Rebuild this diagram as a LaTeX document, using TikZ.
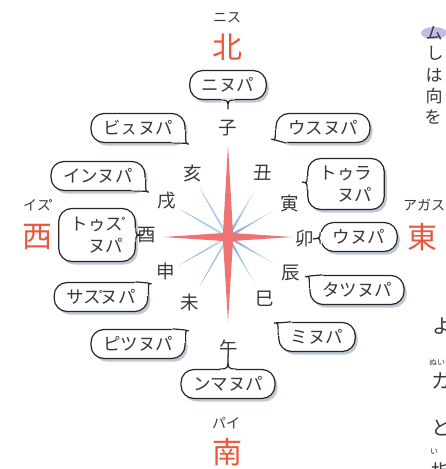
\documentclass[tikz,border=0pt]{standalone}
\usepackage{fontspec}
\setmainfont{Noto Sans CJK JP}
\usetikzlibrary{shadows,calc}

\definecolor{starred}{HTML}{F07373}
\definecolor{dirred}{HTML}{E9573D}
\definecolor{raybl}{HTML}{6FA3DA}
\definecolor{inkgray}{HTML}{383838}
\definecolor{shadowbl}{HTML}{7F93AA}
\definecolor{markpurple}{HTML}{BEBEE4}

% su with the small circle
\newcommand\sumaru{ス\llap{\raisebox{0.6em}{\tikz\draw[line width=.5pt] (0,0) circle (1.4pt);}\kern-0.1em}}

% bubble tail: node, anchor, start, bend, tip, end
\newcommand\bubtail[6]{%
  \coordinate (#1-m) at (#1.#2);
  \coordinate (#1-a) at ($(#1-m)+(#3)$);
  \coordinate (#1-c) at ($(#1-m)+(#4)$);
  \coordinate (#1-tip) at ($(#1-m)+(#5)$);
  \coordinate (#1-b) at ($(#1-m)+(#6)$);
  \fill[white] ($(#1-a)!1.6pt!90:(#1-b)$) -- ($(#1-b)!1.6pt!-90:(#1-a)$)
    -- ($(#1-b)!1.6pt!90:(#1-a)$) -- ($(#1-a)!1.6pt!-90:(#1-b)$) -- cycle;
  \filldraw[tail] (#1-a) .. controls (#1-c) .. (#1-tip) .. controls (#1-c) .. (#1-b);}

\begin{document}
\begin{tikzpicture}[x=1pt,y=-1pt,
  bubble/.style={draw=black!85,line width=1.2pt,fill=white,rounded corners=13pt,
    minimum height=29pt,inner xsep=12pt,inner ysep=3pt,text=inkgray,
    font=\fontsize{17.5}{22}\selectfont,
    drop shadow={shadow xshift=2.5pt,shadow yshift=-3pt,fill=shadowbl,opacity=.5}},
  tail/.style={draw=black!85,line width=1.2pt,fill=white,line join=round},
  branch/.style={font=\fontsize{18.5}{18.5}\selectfont,text=inkgray},
  dirname/.style={font=\fontsize{30}{30}\selectfont,text=dirred,inner sep=0pt},
  reading/.style={font=\fontsize{14}{14}\selectfont,text=inkgray,inner sep=0pt},
  edgetext/.style={font=\fontsize{17}{17}\selectfont,text=inkgray,inner sep=0pt}
]
\useasboundingbox (0,0) rectangle (446,469);
\clip (0,0) rectangle (446,469);

% compass
\coordinate (C) at (228,237);
\foreach \a in {30,60,120,150,210,240,300,330}
  \shade[shift={(C)},rotate=\a,left color=raybl,right color=raybl!25]
    (0,-1.4) -- (56,0) -- (0,1.4) -- cycle;
\fill[starred] (228,145) -- (233,233) -- (292,237) -- (233,241) -- (228,322)
  -- (223,241) -- (163,237) -- (223,233) -- cycle;

% the twelve branches
\node[branch] (zi) at (228,128) {子};
\node[branch] (ushi) at (263,173) {丑};
\node[branch] (tora) at (290,203) {寅};
\node[branch] (u) at (305,239) {卯};
\node[branch] (tatsu) at (291,273) {辰};
\node[branch] (mi) at (265,299) {巳};
\node[branch] (uma) at (229,348) {午};
\node[branch] (hitsuji) at (190,302) {未};
\node[branch] (saru) at (166,271) {申};
\node[branch] (tori) at (147,235) {酉};
\node[branch] (inu) at (167,201) {戌};
\node[branch] (i) at (193,173) {亥};

% bubbles
\node[bubble] (bzi) at (228,85) {ニヌパ};
\node[bubble] (bi) at (138,128) {ビㇲヌパ};
\node[bubble] (bushi) at (323,128) {ウスヌパ};
\node[bubble,align=right,minimum height=51pt] (btora) at (346,184) {トゥラ\\ヌパ};
\node[bubble] (bu) at (359,237) {ウヌパ};
\node[bubble] (btatsu) at (357,290) {タツヌパ};
\node[bubble] (bmi) at (317,337) {ミヌパ};
\node[bubble] (buma) at (228,384) {ンマヌパ};
\node[bubble] (bhitsuji) at (138,344) {ピツヌパ};
\node[bubble] (bsaru) at (101,297) {サ\sumaru ヌパ};
\node[bubble,align=right,minimum height=53pt] (btori) at (97,235) {トゥ\sumaru\\ヌパ};
\node[bubble] (binu) at (98,176) {インヌパ};

\bubtail{bzi}{south}{-7,0}{0,0}{0,9}{7,0}
\bubtail{bi}{south east}{-13,0}{0,0}{3,1}{0,-12}
\bubtail{bushi}{south west}{0,-13}{0,-3}{-4,-4}{11,0}
\bubtail{btora}{west}{0,-8}{0,-1}{-5,-2}{0,6}
\bubtail{bu}{west}{0,-5}{0,1}{-7,2}{0,7}
\bubtail{btatsu}{north west}{13,0}{0,1}{-4,2}{0,13}
\bubtail{bmi}{north west}{13,0}{0,1}{-4,1}{0,13}
\bubtail{buma}{north}{-8,0}{0,0}{0,-13}{8,0}
\bubtail{bhitsuji}{north east}{-13,0}{0,1}{3,2}{0,13}
\bubtail{bsaru}{north east}{-13,0}{0,1}{3,2}{0,13}
\bubtail{btori}{east}{0,-7}{0,0}{7,0}{0,7}
\bubtail{binu}{south east}{-13,0}{0,0}{3,1}{0,-12}

% the four directions
\node[dirname] (kita) at (227,47) {北};
\node[reading] (nisu) at (227,18) {ニス};
\node[dirname] (minami) at (227,452) {南};
\node[reading] (pai) at (226,423) {パイ};
\node[dirname] (nishi) at (37,237) {西};
\node[reading] (isu) at (37,205) {イ\sumaru};
\node[dirname] (higashi) at (422,237) {東};
\node[reading] (agasu) at (424,205) {アガス};

% page text cut at the edge
\fill[markpurple] (434,33) ellipse (13 and 6);
\node[edgetext] (e1) at (434,33) {ム};
\node[edgetext] (e2) at (435,53) {し};
\node[edgetext] (e3) at (434,75) {は};
\node[edgetext] (e4) at (434,96) {向};
\node[edgetext] (e5) at (433,117) {を};
\node[edgetext,font=\fontsize{20}{20}\selectfont] (e6) at (442,326) {よ};
\node[edgetext,font=\fontsize{8}{8}\selectfont] (e7) at (437,362) {ぬい};
\node[edgetext,font=\fontsize{20}{20}\selectfont] (e8) at (441,381) {カ};
\node[edgetext,font=\fontsize{20}{20}\selectfont] (e9) at (441,428) {と};
\node[edgetext,font=\fontsize{8}{8}\selectfont] (e10) at (434,452) {い};
\node[edgetext,font=\fontsize{20}{20}\selectfont] (e11) at (441,472) {指};
\end{tikzpicture}
\end{document}
